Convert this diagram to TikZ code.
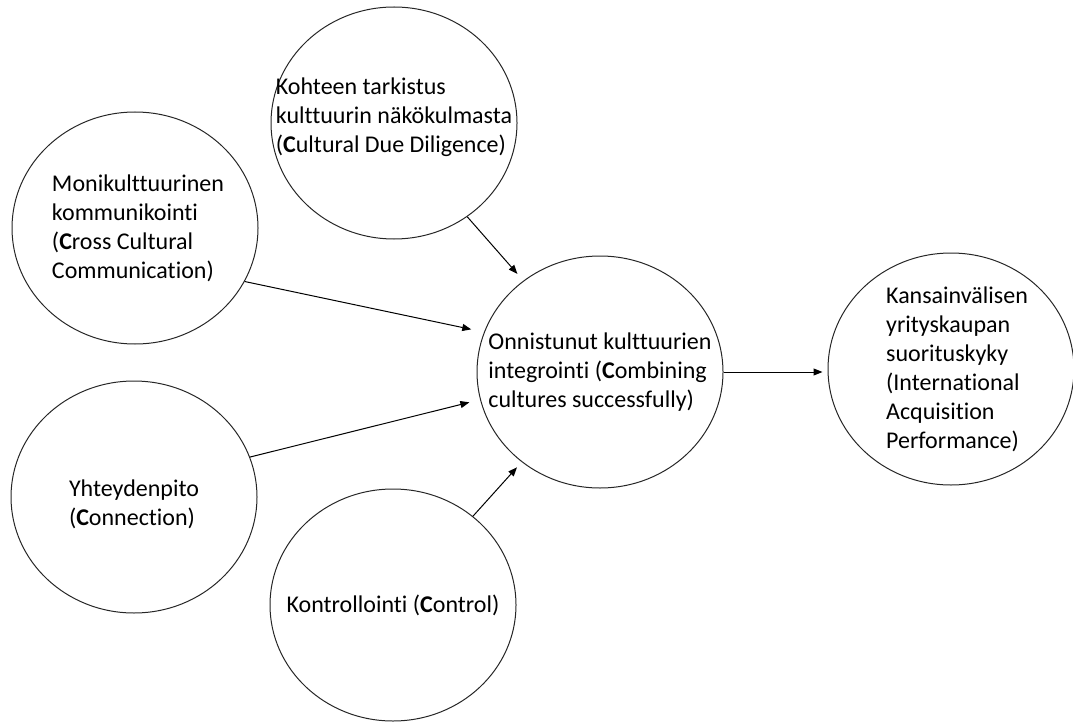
\documentclass[tikz,border=0pt]{standalone}
\usepackage{fontspec}
\setmainfont{Carlito}[Ligatures={NoCommon}]
\usetikzlibrary{shapes.geometric,arrows.meta}
\tikzset{
  bubble/.style={ellipse, draw=black!85, line width=1pt, minimum width=246pt,
                 minimum height=232pt, inner sep=0pt},
  bubbletxt/.style={align=left, inner sep=0pt, font=\fontsize{24}{29}\selectfont},
  flow/.style={-{Triangle[length=9pt,width=7pt]}, line width=1pt}
}
\newcommand{\bubble}[4]{%
  \node[bubble] (#1) at #2 {};
  \node[bubbletxt, #4] (#1-txt) at (#1) {#3};}

\begin{document}
\begin{tikzpicture}[x=1pt, y=-1pt]
\useasboundingbox (0,0) rectangle (1073,722);

\bubble{cdd}{(394,123)}{Kohteen tarkistus\\ kulttuurin näkökulmasta\\ (\textbf{C}ultural Due Diligence)}{yshift=6pt}
\bubble{ccc}{(135,228)}{Monikulttuurinen\\ kommunikointi\\ (\textbf{C}ross Cultural\\ Communication)}{xshift=3pt}
\bubble{cmb}{(600,372)}{Onnistunut kulttuurien\\ integrointi (\textbf{C}ombining\\ cultures successfully)}{}
\bubble{iap}{(951,369)}{Kansainvälisen\\ yrityskaupan\\ suorituskyky\\ (International\\ Acquisition\\ Performance)}{xshift=6pt}
\bubble{cnx}{(134,497)}{Yhteydenpito\\ (\textbf{C}onnection)}{yshift=-7pt}
\bubble{ctl}{(393,605)}{Kontrollointi (\textbf{C}ontrol)}{}

\draw[flow, shorten >=9pt] (cdd.-52) -- (cmb.130);
\draw[flow, shorten >=13pt] (ccc.-26) -- (cmb.161);
\draw[flow, shorten >=11pt] (cnx.19) -- (cmb.193);
\draw[flow, shorten >=7pt] (ctl.48) -- (cmb.-131);
\draw[flow, shorten >=5pt] (cmb.east) -- (cmb.east -| iap.west);

\end{tikzpicture}
\end{document}
